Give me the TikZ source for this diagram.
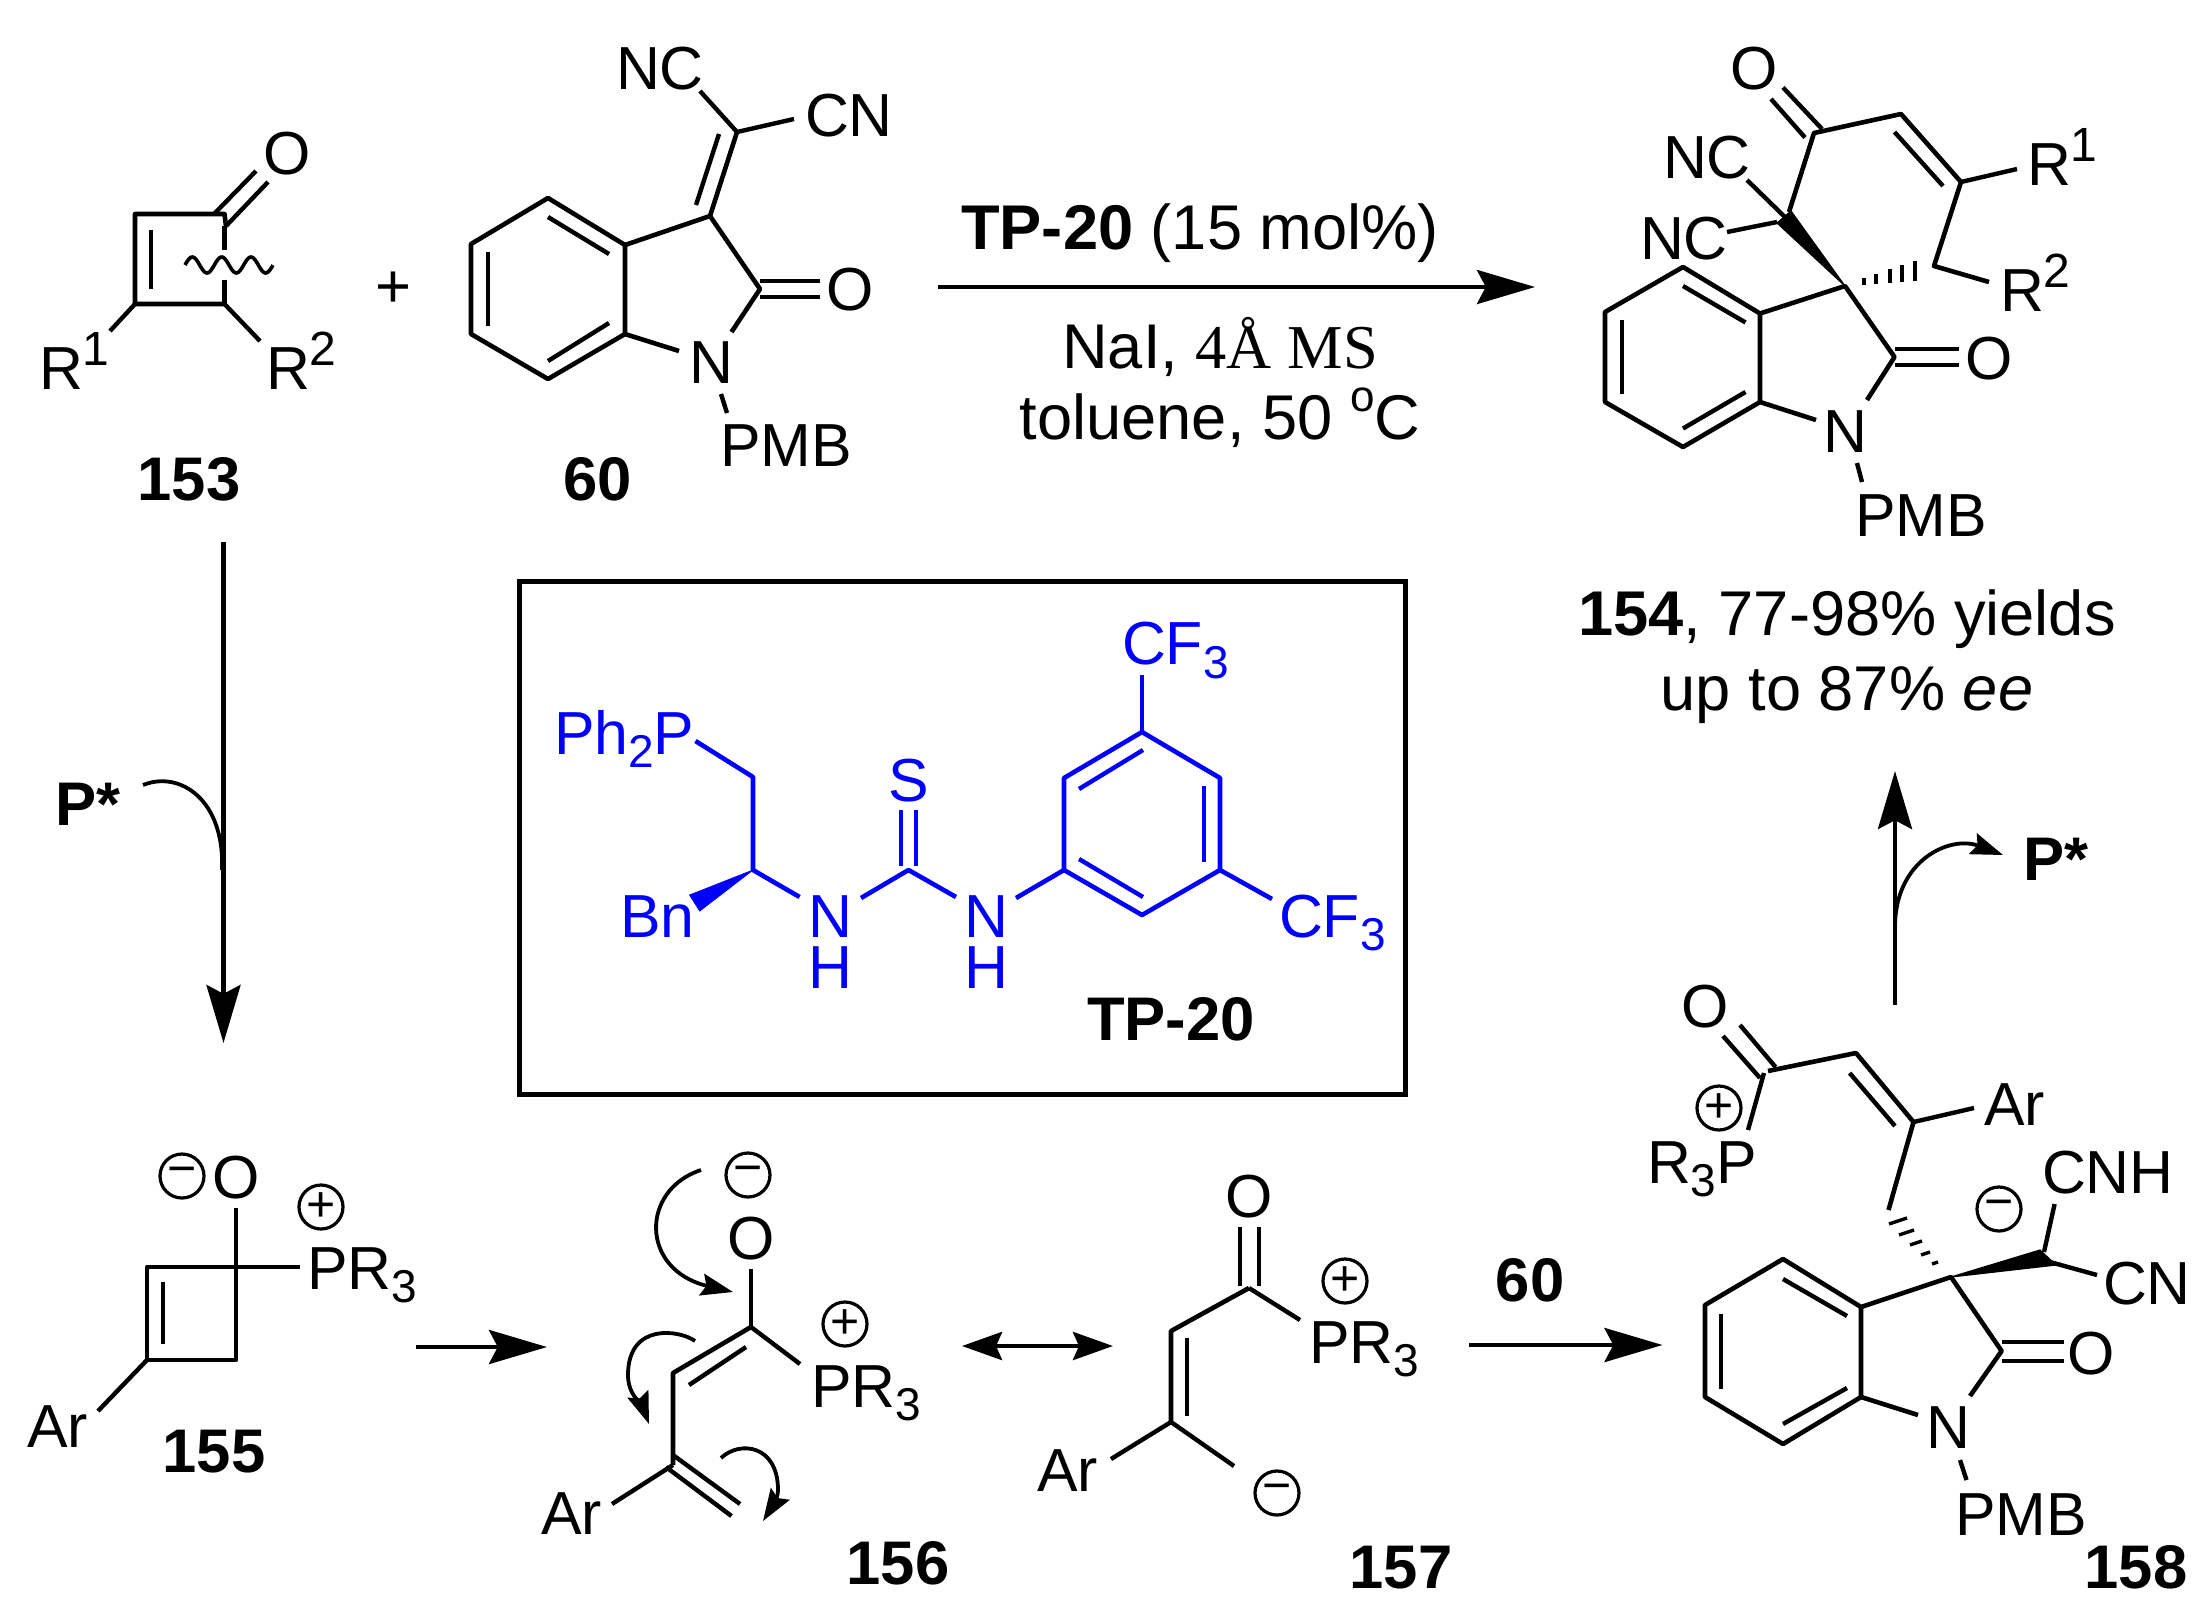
\documentclass[tikz,border=0pt]{standalone}
\usepackage{fontspec}
\setmainfont{Liberation Sans}
\newfontfamily\serifchem{Liberation Serif}
\usetikzlibrary{arrows.meta}
\newcommand{\chemdn}[1]{\raisebox{-3.4pt}{\fontsize{11.5}{12}\selectfont #1}}
\newcommand{\chemup}[1]{\raisebox{6pt}{\fontsize{12}{12}\selectfont #1}}
\definecolor{chemblue}{RGB}{0,0,255}
\tikzset{
  bond/.style={line width=1.15pt,line join=round},
  thinb/.style={line width=1.1pt,line join=round},
  lab/.style={inner sep=0pt,outer sep=0pt,font=\fontsize{15.2}{17}\selectfont},
  labw/.style={lab,anchor=base west},
  labc/.style={lab,anchor=base},
  num/.style={inner sep=0pt,anchor=base,font=\fontsize{15.4}{17}\selectfont\bfseries},
  cond/.style={inner sep=0pt,anchor=base,font=\fontsize{15.8}{18}\selectfont},
  res/.style={inner sep=0pt,anchor=base,font=\fontsize{15.8}{18}\selectfont},
  chg/.style={circle,draw,line width=0.8pt,inner sep=0pt,minimum size=11pt,font=\fontsize{12.5}{12.5}\selectfont},
  rxn/.style={line width=1.15pt,-{Stealth[length=14.5pt,width=8.5pt,inset=2.2pt]}},
  curv/.style={line width=0.95pt,-{Stealth[length=8pt,width=5.5pt,inset=1.2pt]}},
}
\begin{document}
\begin{tikzpicture}[x=0.25pt,y=-0.25pt]
\useasboundingbox (0,0) rectangle (2208,1608);
% ---------- 153
\draw[bond] (226,226) -- (224.5,214) -- (135,214) -- (135,304) -- (224.5,304) -- (224.5,280);
\draw[bond] (224.5,226) -- (224.5,250);
\draw[thinb] (151,230) -- (151,289);
\draw[thinb] (214,214) -- (256,171);
\draw[thinb] (226,226) -- (268,182);
\draw[thinb] (135,304) -- (110,331);
\draw[thinb] (224.5,304) -- (260,341);
\draw[line width=0.9pt] plot[domain=0:1,samples=70,smooth] ({185+88*\x},{265-8*sin(1080*\x)});
\node[labc] (o153) at (287,174) {O};
\node[labw] (r153a) at (39,389) {R\chemup{1}};
\node[labw] (r153b) at (266,389) {R\chemup{2}};
\node[num] (n153) at (189,500) {153};
\node[lab,font=\fontsize{15.4}{17}\selectfont] (plus) at (393.5,290) {+};
% ---------- 60
\draw[bond] (548,198) -- (625,245) -- (625,334) -- (548,379) -- (471,334) -- (471,244) -- cycle;
\draw[thinb] (548,217) -- (609,254);
\draw[thinb] (488,252) -- (488,326);
\draw[thinb] (548,361) -- (609,323);
\draw[bond] (625,245) -- (710,216) -- (760,289) -- (731.5,332);
\draw[bond] (625,334) -- (679,351);
\draw[thinb] (760,281) -- (820,281);
\draw[thinb] (760,297) -- (820,297);
\draw[bond] (710,216) -- (737,132);
\draw[thinb] (696,205) -- (719,134);
\draw[thinb] (737,132) -- (700,91);
\draw[thinb] (737,132) -- (794,119);
\draw[thinb] (721,394) -- (727,413);
\node[labc] (o60) at (850,310) {O};
\node[labc] (n60) at (711,383) {N};
\node[labw] (nc60) at (616,89) {NC};
\node[labw] (cn60) at (805,136) {CN};
\node[labw] (pmb60) at (720,466) {PMB};
\node[num] (l60) at (598,500) {60};
% ---------- conditions
\coordinate (a1s) at (938,287);
\coordinate (a1e) at (1535,287);
\draw[rxn] (a1s) -- (a1e);
\node[cond] (c1) at (1200,249) {\textbf{TP-20} (15 mol\%)};
\node[cond] (c2) at (1220,368) {NaI, {\serifchem\fontsize{15.6}{17}\selectfont 4Å MS}};
\node[cond] (c3) at (1220,439) {toluene, 50 \raisebox{7pt}{\fontsize{11}{12}\selectfont o}C};
% ---------- 154
\draw[bond] (1683,267) -- (1760,313.5) -- (1760,402) -- (1683,447) -- (1605,402) -- (1605,312) -- cycle;
\draw[thinb] (1683,286) -- (1745.5,322.5);
\draw[thinb] (1622,320) -- (1622,394);
\draw[thinb] (1683,428.5) -- (1745.5,392);
\draw[bond] (1760,313.5) -- (1845,286) -- (1894.5,357) -- (1867,400);
\draw[bond] (1760,402) -- (1816,420);
\draw[thinb] (1894.5,349) -- (1959,349);
\draw[thinb] (1894.5,365) -- (1959,365);
\draw[thinb] (1857,463) -- (1862,482);
\draw[fill=black,line width=0.3pt] (1845,286) -- (1777,223) -- (1791,211) -- cycle;
\draw[bond] (1789,212) -- (1814,133) -- (1901,114) -- (1961,182) -- (1934,266) -- (1989,282);
\draw[thinb] (1894.5,132) -- (1943,186);
\draw[thinb] (1961,182) -- (2017,169);
\draw[thinb] (1771,99) -- (1805,137.5);
\draw[thinb] (1783,87.5) -- (1822,129);
\draw[thinb] (1747,180) -- (1789,221);
\draw[thinb] (1727,232) -- (1777,222);
\foreach \xa/\ya/\yb in {1864/278/285,1876/274/284,1890/268.5/283,1902/265/282,1915/261/281}
  \draw[line width=0.85pt] (\xa,\ya) -- (\xa,\yb);
\node[labc] (o154a) at (1754,89) {O};
\node[labc] (o154b) at (1989,379) {O};
\node[labc] (n154) at (1845.5,452) {N};
\node[labw] (nc154a) at (1663,178) {NC};
\node[labw] (nc154b) at (1640,259) {NC};
\node[labw] (r154a) at (2027,185) {R\chemup{1}};
\node[labw] (r154b) at (2000,311) {R\chemup{2}};
\node[labw] (pmb154) at (1855,536) {PMB};
\node[res] (t154a) at (1847,635) {\textbf{154}, 77-98\% yields};
\node[res] (t154b) at (1847,710) {up to 87\% \textit{ee}};
% ---------- left and right vertical arrows
\coordinate (a2s) at (223.5,542);
\coordinate (a2e) at (223.5,1043);
\draw[rxn] (a2s) -- (a2e);
\coordinate (c2s) at (143,785);
\coordinate (c2e) at (222,870);
\draw[line width=0.95pt] (c2s) .. controls (180,770) and (225,800) .. (c2e);
\node[num] (pl) at (88,825) {P*};
\coordinate (a3s) at (1895,1005);
\coordinate (a3e) at (1895,771);
\draw[rxn] (a3s) -- (a3e);
\coordinate (c3s) at (1895,927);
\coordinate (c3e) at (2003,855);
\draw[curv] (c3s) .. controls (1895,860) and (1950,835) .. (c3e);
\node[num] (pr) at (2056,880) {P*};
% ---------- TP-20 box
\node[draw,line width=1.2pt,inner sep=0pt,minimum width=221.5pt,minimum height=128.2pt,anchor=north west] (tpbox) at (517,579) {};
\begin{scope}[chemblue]
\draw[bond] (695.5,741) -- (753,777) -- (753,870) -- (799.6,897);
\draw[fill=chemblue,line width=0.2pt] (753,870) -- (689.6,895) -- (699.7,911) -- cycle;
\draw[bond] (861,898) -- (908.5,870) -- (956,897);
\draw[thinb] (901,866) -- (901,810);
\draw[thinb] (916,866) -- (916,810);
\draw[bond] (1016,898) -- (1064,870);
\draw[bond] (1064,870) -- (1064,778) -- (1142,732) -- (1220,778) -- (1220,870) -- (1142,915) -- cycle;
\draw[thinb] (1079,789) -- (1143,750);
\draw[thinb] (1204,786) -- (1204,862);
\draw[thinb] (1079,859) -- (1143,897);
\draw[bond] (1142,732) -- (1142,675);
\draw[bond] (1220,870) -- (1272,899);
\node[labw,chemblue] (ph2p) at (554,754) {Ph\chemdn{2}P};
\node[labw,chemblue] (bn) at (620,937) {Bn};
\node[labc,chemblue] (na) at (830.6,937) {N};
\node[labc,chemblue] (ha) at (830.6,988) {H};
\node[labc,chemblue] (nb) at (986.5,937) {N};
\node[labc,chemblue] (hb) at (986.5,988) {H};
\node[labc,chemblue] (s) at (908.5,801) {S};
\node[labw,chemblue] (cf3a) at (1122,664.5) {CF\chemdn{3}};
\node[labw,chemblue] (cf3b) at (1279,937) {CF\chemdn{3}};
\end{scope}
\node[num] (tp20) at (1171,1040) {TP-20};
% ---------- 155
\draw[bond] (236,1267) -- (147,1267) -- (147,1360) -- (236,1360) -- cycle;
\draw[thinb] (163,1282) -- (163,1344);
\draw[thinb] (236,1208) -- (236,1267);
\draw[bond] (236,1267) -- (300,1267);
\draw[thinb] (147,1360) -- (98,1411);
\node[labc] (o155) at (236,1198) {O};
\node[labw] (pr155) at (307,1289) {PR\chemdn{3}};
\node[labw] (ar155) at (27,1447) {Ar};
\node[chg] (m155) at (182,1176) {−};
\node[chg] (p155) at (321,1207) {+};
\node[num] (n155) at (214,1472) {155};
\coordinate (a4s) at (416,1347);
\coordinate (a4e) at (547,1347);
\draw[rxn] (a4s) -- (a4e);
% ---------- 156
\draw[thinb] (751,1269) -- (751,1327);
\draw[bond] (751,1327) -- (673,1373) -- (673,1465);
\draw[thinb] (746,1347) -- (689,1385);
\draw[thinb] (751,1327) -- (800,1364);
\draw[thinb] (673,1465) -- (612,1504);
\draw[thinb] (673,1455) -- (740,1504);
\draw[thinb] (666,1467) -- (731.5,1516);
\node[labc] (o156) at (751,1259.5) {O};
\node[labw] (pr156) at (811,1407) {PR\chemdn{3}};
\node[labw] (ar156) at (541,1534) {Ar};
\node[chg] (p156) at (845,1324) {+};
\node[chg] (m156) at (748,1175) {−};
\node[num] (n156) at (898,1584) {156};
\coordinate (k1s) at (701,1170);
\coordinate (k1e) at (733,1292);
\draw[curv] (k1s) .. controls (640,1190) and (640,1270) .. (k1e);
\coordinate (k2s) at (695,1341);
\coordinate (k2e) at (649,1424);
\draw[curv] (k2s) .. controls (680,1330) and (628,1322) .. (628,1375) .. controls (628,1395) and (642,1405) .. (k2e);
\coordinate (k3s) at (721,1458);
\coordinate (k3e) at (763,1521);
\draw[curv] (k3s) .. controls (740,1440) and (778,1445) .. (778,1490) .. controls (778,1500) and (770,1510) .. (k3e);
% ---------- resonance arrow
\coordinate (a5s) at (962,1346);
\coordinate (a5e) at (1113,1346);
\draw[line width=1.15pt,{Stealth[length=10pt,width=7pt,inset=1.5pt]}-{Stealth[length=10pt,width=7pt,inset=1.5pt]}] (a5s) -- (a5e);
% ---------- 157
\draw[thinb] (1240,1227) -- (1240,1286);
\draw[thinb] (1259,1227) -- (1259,1286);
\draw[bond] (1249,1288) -- (1171,1331) -- (1171,1422);
\draw[thinb] (1187,1338) -- (1187,1416);
\draw[thinb] (1249,1288) -- (1300,1320);
\draw[thinb] (1171,1422) -- (1111,1459);
\draw[thinb] (1171,1422) -- (1234,1466);
\node[labc] (o157) at (1249,1217) {O};
\node[labw] (pr157) at (1309,1363) {PR\chemdn{3}};
\node[labw] (ar157) at (1037,1491.5) {Ar};
\node[chg] (p157) at (1345,1281) {+};
\node[chg] (m157) at (1277,1493) {−};
\node[num] (n157) at (1401,1588) {157};
\coordinate (a6s) at (1469,1345);
\coordinate (a6e) at (1662.5,1345);
\draw[rxn] (a6s) -- (a6e);
\node[num] (l60b) at (1530,1301) {60};
% ---------- 158
\draw[bond] (1783,1259) -- (1861,1307) -- (1861,1397) -- (1783,1444) -- (1705,1397) -- (1705,1305) -- cycle;
\draw[thinb] (1783,1279) -- (1847,1316);
\draw[thinb] (1721,1314) -- (1721,1389);
\draw[thinb] (1783,1424) -- (1847,1388);
\draw[bond] (1861,1307) -- (1951,1277) -- (2001.6,1351) -- (1970,1396);
\draw[bond] (1861,1397) -- (1918,1415);
\draw[thinb] (2001.6,1342) -- (2064,1342);
\draw[thinb] (2001.6,1361) -- (2064,1361);
\draw[thinb] (1960,1460) -- (1966.5,1480);
\draw[fill=black,line width=0.3pt] (1951,1277) -- (2040,1250) -- (2056,1265) -- cycle;
\draw[thinb] (2044,1252) -- (2054.6,1204);
\draw[thinb] (2050,1262) -- (2097,1275);
\draw[thinb] (1723,1036) -- (1760,1078);
\draw[thinb] (1740,1025) -- (1775.5,1067);
\draw[thinb] (1764,1073) -- (1748,1130);
\draw[bond] (1768,1071) -- (1856,1053) -- (1913.5,1122) -- (1888.5,1210);
\draw[thinb] (1849.6,1073) -- (1895,1126);
\draw[thinb] (1913.5,1122) -- (1974,1108);
\foreach \xa/\ya/\xb/\yb in {1889/1224/1907/1218,1899/1235/1914/1230,1910/1245/1922/1241,1921/1255/1930/1252,1932/1264/1938/1262}
  \draw[line width=0.85pt] (\xa,\ya) -- (\xb,\yb);
\node[labc] (o158a) at (1705,1027) {O};
\node[labw] (r3p) at (1647,1183) {R\chemdn{3}P};
\node[labw] (ar158) at (1984,1125) {Ar};
\node[labw] (cnh) at (2042,1193) {CNH};
\node[labw] (cn158) at (2103,1304.5) {CN};
\node[labc] (o158b) at (2091,1374) {O};
\node[labc] (n158) at (1948.5,1448) {N};
\node[labw] (pmb158) at (1955,1535) {PMB};
\node[chg] (p158) at (1719,1108) {+};
\node[chg] (m158) at (1999,1209) {−};
\node[num] (n158n) at (2136,1588) {158};
\end{tikzpicture}
\end{document}
